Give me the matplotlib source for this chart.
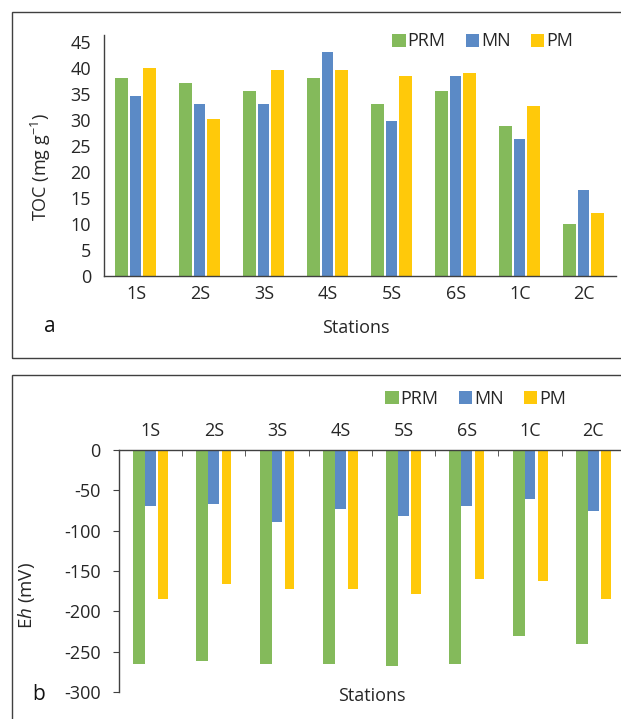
import matplotlib

matplotlib.use("Agg")

import matplotlib.pyplot as plt
import numpy as np
from matplotlib.patches import Patch, Rectangle

plt.rcParams["font.family"] = ["Open Sans", "DejaVu Sans"]
plt.rcParams["mathtext.fontset"] = "custom"
plt.rcParams["mathtext.rm"] = "Open Sans"
plt.rcParams["mathtext.it"] = "Open Sans:italic"
plt.rcParams["axes.unicode_minus"] = False

STATIONS = ["1S", "2S", "3S", "4S", "5S", "6S", "1C", "2C"]
SERIES = ["PRM", "MN", "PM"]

TOC_PRM = [38.1, 37.1, 35.6, 38.1, 33.1, 35.6, 28.7, 10.0]
TOC_MN = [34.6, 33.1, 33.1, 43.0, 29.7, 38.5, 26.3, 16.4]
TOC_PM = [40.0, 30.2, 39.6, 39.6, 38.5, 39.0, 32.6, 12.0]

EH_PRM = [-265, -262, -265, -265, -268, -265, -231, -240]
EH_MN = [-69, -67, -89, -73, -82, -70, -61, -76]
EH_PM = [-185, -166, -172, -172, -179, -160, -163, -185]

COLOURS = {"PRM": "#84BA5B", "MN": "#5B8AC6", "PM": "#FFC90A"}
TEXT = "#262626"
FS = 13

W, H = 621, 719


def fx(px):
    return px / W


def fy(py):
    return 1 - py / H


fig = plt.figure(figsize=(W / 100, H / 100), dpi=100)

# panel frames
fig.patches.append(Rectangle((fx(12), fy(358)), fx(640) - fx(12), fy(12) - fy(358),
                             transform=fig.transFigure, fill=False,
                             edgecolor="#404040", linewidth=1.0))
fig.patches.append(Rectangle((fx(12), fy(740)), fx(640) - fx(12), fy(375) - fy(740),
                             transform=fig.transFigure, fill=False,
                             edgecolor="#404040", linewidth=1.0))

x = np.arange(len(STATIONS))

# ---- panel a ----
ax_a = fig.add_axes([fx(104), fy(275.7), fx(616) - fx(104), fy(35) - fy(275.7)])
for vals, name, off, wd in [(TOC_PRM, "PRM", -0.23, 0.195),
                            (TOC_MN, "MN", -0.01, 0.17),
                            (TOC_PM, "PM", 0.205, 0.2)]:
    ax_a.bar(x + off, vals, width=wd, color=COLOURS[name], label=name)
ax_a.set_xlim(-0.5, 7.5)
ax_a.set_ylim(0, 46.3)
ax_a.set_yticks(range(0, 50, 5))
ax_a.set_xticks(x, STATIONS)
ax_a.tick_params(axis="both", length=0, labelsize=FS, colors=TEXT)
ax_a.tick_params(axis="y", pad=9.4)
ax_a.tick_params(axis="x", pad=7)
for side in ["top", "right"]:
    ax_a.spines[side].set_visible(False)
for side in ["left", "bottom"]:
    ax_a.spines[side].set_color("#404040")
    ax_a.spines[side].set_linewidth(1.0)
ax_a.set_ylabel("TOC (mg g$^{-1}$)", fontsize=FS, color=TEXT)
ax_a.yaxis.set_label_coords(-0.1, 0.45)

# ---- panel b ----
ax_b = fig.add_axes([fx(118.9), fy(692), fx(625) - fx(118.9), fy(449.8) - fy(692)])
for vals, name, off, wd in [(EH_PRM, "PRM", -0.18, 0.19),
                            (EH_MN, "MN", 0.0, 0.17),
                            (EH_PM, "PM", 0.2, 0.15)]:
    ax_b.bar(x + off, vals, width=wd, color=COLOURS[name], label=name)
ax_b.set_xlim(-0.5, 7.5)
ax_b.set_ylim(-300, 0)
ax_b.set_yticks(range(-300, 1, 50))
ax_b.xaxis.tick_top()
ax_b.set_xticks(x, STATIONS)
ax_b.set_xticks(np.arange(-0.5, 8, 1), minor=True)
ax_b.tick_params(axis="x", which="major", length=0, pad=7, labelsize=FS, colors=TEXT)
ax_b.tick_params(axis="x", which="minor", direction="in", length=4, color="#404040")
ax_b.tick_params(axis="y", length=4, pad=9, labelsize=FS, colors=TEXT, color="#404040")
for side in ["bottom", "right"]:
    ax_b.spines[side].set_visible(False)
for side in ["left", "top"]:
    ax_b.spines[side].set_color("#404040")
    ax_b.spines[side].set_linewidth(1.0)
ax_b.set_ylabel("E$h$ (mV)", fontsize=FS + 0.5, color=TEXT)
ax_b.yaxis.set_label_coords(-0.162, 0.40)

# legends
handles = [Patch(facecolor=COLOURS[s], edgecolor="none", label=s) for s in SERIES]
for lx, ly in [(392, 41.5), (385, 399)]:
    fig.legend(handles=handles, loc="center left", bbox_to_anchor=(fx(lx), fy(ly)),
               ncol=3, frameon=False, fontsize=FS, handlelength=0.75,
               handleheight=0.75, handletextpad=0.12, columnspacing=1.1,
               borderpad=0, borderaxespad=0, labelcolor=TEXT)

# axis titles and panel letters
fig.text(fx(356), fy(328), "Stations", ha="center", va="center", fontsize=FS, color=TEXT)
fig.text(fx(372), fy(696), "Stations", ha="center", va="center", fontsize=FS, color=TEXT)
fig.text(fx(49.5), fy(327), "a", ha="center", va="center", fontsize=15, color="#111111")
fig.text(fx(38.4), fy(695), "b", ha="center", va="center", fontsize=15, color="#111111")

fig.savefig("out.png", dpi=100)
